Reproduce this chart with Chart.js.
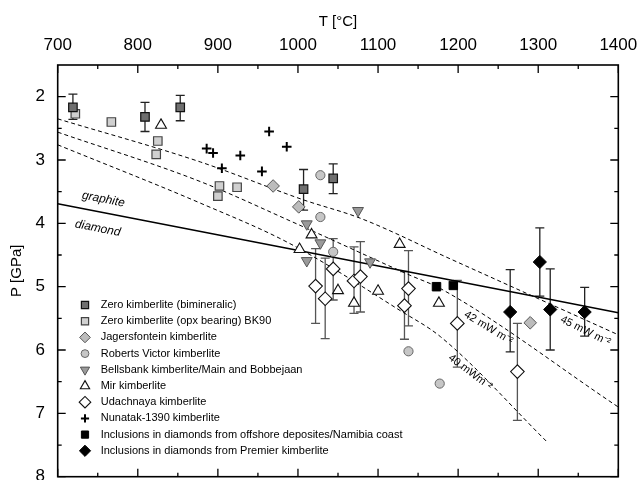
<!DOCTYPE html>
<html><head><meta charset="utf-8">
<script src="https://cdn.jsdelivr.net/npm/chart.js@4"></script>
<style>html,body{margin:0;padding:0;background:#fff;}canvas{display:block;}</style>
</head><body>
<canvas id="c" width="639" height="480"></canvas>
<script>
// ---------- tick labels ----------
const xTicks = [700, 800, 900, 1000, 1100, 1200, 1300, 1400];
const yTicks = [2, 3, 4, 5, 6, 7, 8];

// ---------- series ----------
const zeroBimT  = [719, 809, 853, 1007, 1044];
const zeroBimP  = [2.17, 2.32, 2.17, 3.46, 3.29];
const zeroBimLo = [1.96, 2.09, 1.98, 3.15, 3.06];
const zeroBimHi = [2.36, 2.55, 2.38, 3.79, 3.53];

const zeroOpxT = [722, 767, 825, 823, 902, 924, 900];
const zeroOpxP = [2.27, 2.40, 2.70, 2.91, 3.41, 3.43, 3.57];

const jagT = [969, 1001, 1290];
const jagP = [3.41, 3.74, 5.57];

const robT = [1028, 1028, 1044, 1138, 1177];
const robP = [3.24, 3.90, 4.45, 6.02, 6.53];

const bellT = [1075, 1011, 1028, 1011, 1090];
const bellP = [3.80, 4.01, 4.31, 4.59, 4.61];

const mirT = [829, 1017, 1002, 1050, 1070, 1100, 1127, 1176];
const mirP = [2.45, 4.18, 4.41, 5.06, 5.26, 5.07, 4.33, 5.26];

const udaT  = [1022, 1034, 1044, 1070, 1078, 1138, 1133, 1199, 1274];
const udaP  = [4.99, 5.19, 4.72, 4.91, 4.84, 5.03, 5.30, 5.58, 6.34];
const udaLo = [4.40, 4.55, 4.24, 4.37, 4.29, 4.43, 4.76, 4.90, 5.58];
const udaHi = [5.58, 5.82, 5.21, 5.42, 5.40, 5.62, 5.83, 6.27, 7.11];

const nunT = [886, 894, 928, 905, 955, 986, 964];
const nunP = [2.82, 2.89, 2.93, 3.13, 3.18, 2.79, 2.55];

const offT = [1173, 1194];
const offP = [5.00, 4.98];

const premT  = [1265, 1302, 1315, 1358];
const premP  = [5.40, 4.61, 5.36, 5.40];
const premLo = [4.73, 4.07, 4.72, 5.01];
const premHi = [6.03, 5.15, 6.00, 5.78];

// graphite / diamond boundary and geotherms
const gdT = [700, 1400];
const gdP = [3.69, 5.41];
const geo45T = [700, 878, 1007, 1078, 1190, 1400];
const geo45P = [2.35, 3.03, 3.63, 3.92, 4.56, 5.76];
const geo42T = [700, 878, 990, 1140, 1178, 1400];
const geo42P = [2.56, 3.34, 3.96, 4.82, 5.03, 6.90];
const geo40T = [700, 878, 990, 1128, 1178, 1311];
const geo40P = [2.76, 3.68, 4.32, 5.38, 5.79, 7.45];

// ---------- build ----------
const FONT = "'Liberation Sans', Arial, sans-serif";
const pts = (T, P) => T.map((t, i) => ({x: t, y: P[i]}));

const sym = (label, T, P, style, extra) => Object.assign({
  type: 'scatter', label, data: pts(T, P), showLine: false, legendItem: true,
  pointStyle: style.ps, pointRadius: style.r, pointRotation: style.rot || 0,
  backgroundColor: style.bg, borderColor: style.bc, borderWidth: style.bw,
  pointBackgroundColor: style.bg, pointBorderColor: style.bc, pointBorderWidth: style.bw,
  order: 1
}, extra || {});

const line = (label, T, P, dash, w) => ({
  type: 'scatter', label, data: pts(T, P), showLine: true, legendItem: false,
  pointRadius: 0, borderColor: '#000', borderWidth: w, borderDash: dash,
  cubicInterpolationMode: 'monotone', fill: false, order: 10
});

const datasets = [
  sym('Zero kimberlite (bimineralic)', zeroBimT, zeroBimP, {ps:'rect', r:6, bg:'#6f6f6f', bc:'#111', bw:1.2}, {errLo: zeroBimLo, errHi: zeroBimHi, errColor:'#222'}),
  sym('Zero kimberlite (opx bearing) BK90', zeroOpxT, zeroOpxP, {ps:'rect', r:6, bg:'#d0d0d0', bc:'#444', bw:1.2}),
  sym('Jagersfontein kimberlite', jagT, jagP, {ps:'rectRot', r:6.3, bg:'#bcbcbc', bc:'#555', bw:1}),
  sym('Roberts Victor kimberlite', robT, robP, {ps:'circle', r:4.6, bg:'#c6c6c6', bc:'#666', bw:1}),
  sym('Bellsbank kimberlite/Main and Bobbejaan', bellT, bellP, {ps:'triangle', rot:180, r:6.3, bg:'#9a9a9a', bc:'#555', bw:1}),
  sym('Mir kimberlite', mirT, mirP, {ps:'triangle', r:6.3, bg:'#ffffff', bc:'#111', bw:1.1}),
  sym('Udachnaya kimberlite', udaT, udaP, {ps:'rectRot', r:6.8, bg:'#ffffff', bc:'#111', bw:1.1}, {errLo: udaLo, errHi: udaHi, errColor:'#555'}),
  sym('Nunatak-1390 kimberlite', nunT, nunP, {ps:'cross', r:4.8, bg:'#000', bc:'#000', bw:2}),
  sym('Inclusions in diamonds from offshore deposites/Namibia coast', offT, offP, {ps:'rect', r:6, bg:'#000', bc:'#000', bw:1}),
  sym('Inclusions in diamonds from Premier kimberlite', premT, premP, {ps:'rectRot', r:6.6, bg:'#000', bc:'#000', bw:1}, {errLo: premLo, errHi: premHi, errColor:'#222'}),
  line('graphite-diamond', gdT, gdP, [], 1.5),
  line('45 mW/m2', geo45T, geo45P, [4, 3], 1),
  line('42 mW/m2', geo42T, geo42P, [4, 3], 1),
  line('40 mW/m2', geo40T, geo40P, [4, 3], 1)
];

// ---------- plugins ----------
const errPlugin = {
  id: 'errbars',
  beforeDatasetsDraw(chart) {
    const {ctx, scales: {x, y}} = chart;
    chart.data.datasets.forEach(ds => {
      if (!ds.errLo) return;
      ctx.save();
      ctx.strokeStyle = ds.errColor;
      ctx.lineWidth = 1.3;
      ds.data.forEach((p, i) => {
        const px = x.getPixelForValue(p.x);
        const y1 = y.getPixelForValue(ds.errLo[i]);
        const y2 = y.getPixelForValue(ds.errHi[i]);
        ctx.beginPath();
        ctx.moveTo(px, y1); ctx.lineTo(px, y2);
        ctx.moveTo(px - 4.5, y1); ctx.lineTo(px + 4.5, y1);
        ctx.moveTo(px - 4.5, y2); ctx.lineTo(px + 4.5, y2);
        ctx.stroke();
      });
      ctx.restore();
    });
  }
};

const framePlugin = {
  id: 'frame',
  afterDatasetsDraw(chart) {
    const {ctx, chartArea: a, scales: {x, y}} = chart;
    ctx.save();
    ctx.strokeStyle = '#000';
    ctx.lineWidth = 1.6;
    ctx.strokeRect(a.left, a.top, a.right - a.left, a.bottom - a.top);
    ctx.lineWidth = 1.3;
    ctx.beginPath();
    const xt = (px, len) => {
      ctx.moveTo(px, a.top); ctx.lineTo(px, a.top + len);
      ctx.moveTo(px, a.bottom); ctx.lineTo(px, a.bottom - len);
    };
    const yt = (py, len) => {
      ctx.moveTo(a.left, py); ctx.lineTo(a.left + len, py);
      ctx.moveTo(a.right, py); ctx.lineTo(a.right - len, py);
    };
    xTicks.forEach((v, i) => {
      xt(x.getPixelForValue(v), 8);
      if (i < xTicks.length - 1) xt(x.getPixelForValue((v + xTicks[i + 1]) / 2), 4);
    });
    yTicks.forEach((v, i) => {
      yt(y.getPixelForValue(v), 8);
      if (i < yTicks.length - 1) yt(y.getPixelForValue((v + yTicks[i + 1]) / 2), 4);
    });
    ctx.stroke();
    ctx.restore();
  }
};

const textPlugin = {
  id: 'texts',
  afterDatasetsDraw(chart) {
    const {ctx, scales: {x, y}} = chart;
    const put = (txt, T, P, deg, font) => {
      ctx.save();
      ctx.translate(x.getPixelForValue(T), y.getPixelForValue(P));
      ctx.rotate(deg * Math.PI / 180);
      ctx.font = font;
      ctx.fillStyle = '#000';
      ctx.textAlign = 'center';
      ctx.textBaseline = 'middle';
      ctx.fillText(txt, 0, 0);
      ctx.restore();
    };
    put('graphite', 757, 3.62, 11, "italic 12px " + FONT);
    put('diamond', 750, 4.08, 11, "italic 12px " + FONT);
    put('45 mW m\u207B\u00B2', 1359, 5.70, 26.5, "11px " + FONT);
    put('42 mW m\u207B\u00B2', 1238, 5.65, 31, "11px " + FONT);
    put('40 mWm\u207B\u00B2', 1215, 6.35, 37, "11px " + FONT);
  }
};

const legendPlugin = {
  id: 'customLegend',
  afterDraw(chart) {
    const {ctx, chartArea: a} = chart;
    const items = chart.data.datasets.filter(d => d.legendItem);
    ctx.save();
    ctx.font = "11px " + FONT;
    ctx.textBaseline = 'middle';
    ctx.textAlign = 'left';
    items.forEach((ds, i) => {
      const cy = a.top + 240 + i * 16.2;
      const cx = a.left + 27.3;
      ctx.fillStyle = ds.pointBackgroundColor;
      ctx.strokeStyle = ds.pointBorderColor;
      ctx.lineWidth = ds.pointBorderWidth;
      Chart.helpers.drawPoint(ctx, {
        pointStyle: ds.pointStyle, radius: ds.pointRadius * 0.85,
        rotation: ds.pointRotation, borderWidth: ds.pointBorderWidth
      }, cx, cy);
      ctx.fillStyle = '#000';
      ctx.fillText(ds.label, a.left + 43, cy);
    });
    ctx.restore();
  }
};

const noPad = s => { s.paddingLeft = 0; s.paddingRight = 0; s.paddingTop = 0; s.paddingBottom = 0; };

new Chart(document.getElementById('c'), {
  type: 'scatter',
  data: {datasets},
  options: {
    responsive: false,
    animation: false,
    devicePixelRatio: 1,
    layout: {autoPadding: false, padding: {left: 0, top: 0, right: 20.7, bottom: 3.3}},
    plugins: {legend: {display: false}, tooltip: {enabled: false}},
    scales: {
      x: {
        type: 'linear', position: 'top', min: 700, max: 1400,
        afterBuildTicks: s => { s.ticks = xTicks.map(v => ({value: v})); },
        afterFit: s => { s.height = 65; noPad(s); },
        grid: {display: false, drawTicks: false},
        border: {display: false},
        ticks: {font: {family: FONT, size: 17}, color: '#000', padding: 9.3, maxRotation: 0, autoSkip: false,
                callback: v => String(v)},
        title: {display: true, text: 'T [°C]', font: {family: FONT, size: 15}, color: '#000', padding: {top: 13, bottom: 0}}
      },
      y: {
        type: 'linear', position: 'left', reverse: true, min: 1.5, max: 8,
        afterBuildTicks: s => { s.ticks = yTicks.map(v => ({value: v})); },
        afterFit: s => { s.width = 57.7; noPad(s); },
        grid: {display: false, drawTicks: false},
        border: {display: false},
        ticks: {font: {family: FONT, size: 17}, color: '#000', padding: 12.7, autoSkip: false,
                callback: v => String(v)},
        title: {display: true, text: 'P [GPa]', font: {family: FONT, size: 15}, color: '#000', padding: {top: 8, bottom: 0}}
      }
    }
  },
  plugins: [errPlugin, framePlugin, textPlugin, legendPlugin]
});
</script>
</body></html>
